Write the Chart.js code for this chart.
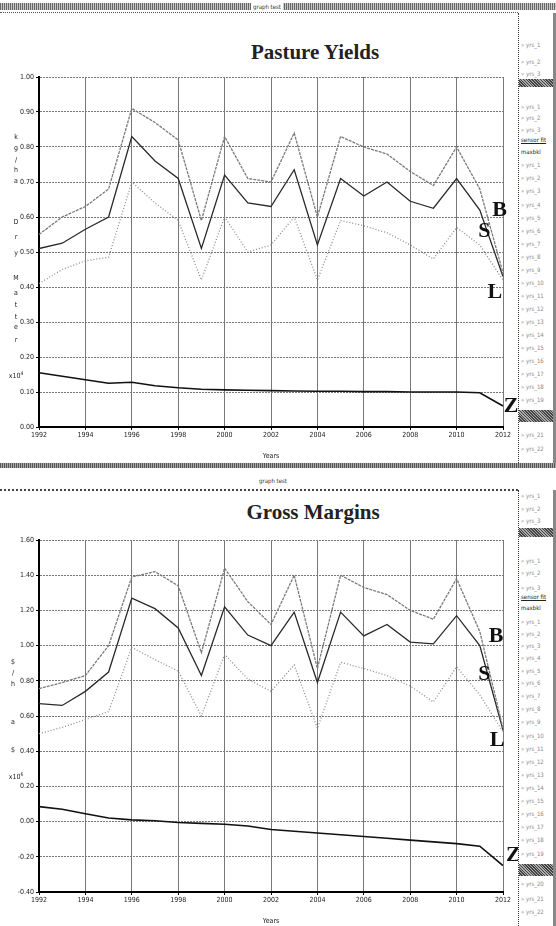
<!DOCTYPE html>
<html><head><meta charset="utf-8">
<script src="https://cdn.jsdelivr.net/npm/chart.js@4.4.0/dist/chart.umd.min.js"></script>
<style>
html,body{margin:0;padding:0;background:#fff;}
body{width:556px;height:926px;position:relative;overflow:hidden;font-family:'Liberation Serif',serif;color:#111;}
.abs{position:absolute;}
.hbar{position:absolute;left:0;width:556px;background:repeating-linear-gradient(90deg,#666 0 1px,#c8c8c8 1px 2px);}
.dline{position:absolute;left:0;width:518px;border-top:1px dotted #555;}
.gt{position:absolute;font:6px 'DejaVu Sans Condensed',sans-serif;color:#333;background:#fff;padding:0 2px;transform:translateX(-50%);}
.title{position:absolute;font:bold 21px 'Liberation Serif',serif;color:#222;transform:translateX(-50%);white-space:nowrap;}
.panel{position:absolute;left:518px;width:34px;border-left:1px dotted #333;border-right:4px solid #888;}
.item{position:absolute;left:2px;font:6px 'DejaVu Sans Condensed',sans-serif;color:#888;white-space:nowrap;}
.sel{position:absolute;left:0;width:34px;background:repeating-linear-gradient(45deg,#444 0 1px,#aaa 1px 2px);}
.vl{position:absolute;font:7px 'DejaVu Sans Condensed',sans-serif;color:#222;transform:translate(-50%,-50%);}
canvas{position:absolute;left:0;}
</style></head><body>

<div class="hbar" style="top:3px;height:7px"></div>
<div class="gt" style="left:267px;top:3px">graph test</div>
<div class="dline" style="top:12px"></div>

<div class="hbar" style="top:463px;height:5px;background:repeating-linear-gradient(90deg,#555 0 1px,#aaa 1px 2px)"></div>
<div class="gt" style="left:273px;top:477px">graph test</div>
<div class="dline" style="top:489px;border-top:2px dotted #444"></div>

<div class="panel" id="p1" style="top:13px;height:450px"></div>
<div class="panel" id="p2" style="top:490px;height:436px"></div>

<div class="title" style="left:315px;top:40px">Pasture Yields</div>
<div class="title" style="left:313px;top:500px">Gross Margins</div>

<canvas id="c1" width="518" height="398" style="top:62px"></canvas>
<canvas id="c2" width="518" height="400" style="top:525px"></canvas>

<script>
// ---- data ----
const years = [1992,1993,1994,1995,1996,1997,1998,1999,2000,2001,2002,2003,2004,2005,2006,2007,2008,2009,2010,2011,2012];
const xTicks = [1992,1994,1996,1998,2000,2002,2004,2006,2008,2010,2012];

// Pasture Yields (x10^4)
const pastureB = [0.55,0.60,0.63,0.68,0.91,0.87,0.82,0.59,0.83,0.71,0.70,0.84,0.60,0.83,0.80,0.78,0.73,0.69,0.80,0.68,0.44];
const pastureS = [0.51,0.525,0.565,0.60,0.83,0.76,0.71,0.51,0.72,0.64,0.63,0.735,0.52,0.71,0.66,0.70,0.645,0.625,0.71,0.62,0.43];
const pastureL = [0.41,0.45,0.475,0.485,0.70,0.64,0.59,0.42,0.60,0.50,0.52,0.60,0.42,0.59,0.575,0.555,0.52,0.48,0.57,0.52,0.42];
const pastureZ = [0.155,0.145,0.135,0.125,0.128,0.118,0.112,0.108,0.106,0.105,0.104,0.103,0.102,0.102,0.101,0.101,0.100,0.100,0.100,0.098,0.06];

// Gross Margins (x10^6)
const marginB = [0.755,0.79,0.83,1.00,1.39,1.42,1.34,0.96,1.44,1.25,1.12,1.40,0.87,1.40,1.33,1.29,1.20,1.15,1.38,1.08,0.53];
const marginS = [0.67,0.66,0.74,0.85,1.27,1.21,1.10,0.83,1.22,1.06,1.00,1.19,0.79,1.19,1.055,1.12,1.02,1.01,1.17,1.00,0.52];
const marginL = [0.50,0.535,0.58,0.625,0.99,0.92,0.855,0.60,0.95,0.81,0.74,0.89,0.53,0.905,0.87,0.83,0.77,0.68,0.88,0.72,0.51];
const marginZ = [0.085,0.07,0.045,0.02,0.01,0.005,-0.005,-0.01,-0.015,-0.025,-0.045,-0.055,-0.065,-0.075,-0.085,-0.095,-0.105,-0.115,-0.125,-0.14,-0.25];

// series end letters: [letter, year, value]
const pastureLetters = [['B',2011.85,0.62],['S',2011.2,0.56],['L',2011.65,0.385],['Z',2012.35,0.06]];
const marginLetters  = [['B',2011.7,1.05],['S',2011.2,0.835],['L',2011.75,0.46],['Z',2012.45,-0.19]];

const pastureTicks = {min:0, max:1.0, step:0.1};
const marginTicks  = {min:-0.4, max:1.6, step:0.2};

// ---- chrome ----
function panel(id, tops, selTops){
  const p=document.getElementById(id);
  const names=['yrs_1','yrs_2','yrs_3','','yrs_1','yrs_2','yrs_3','sensor fit','maxbkl','yrs_1','yrs_2','yrs_3','yrs_4','yrs_5','yrs_6','yrs_7','yrs_8','yrs_9','yrs_10','yrs_11','yrs_12','yrs_13','yrs_14','yrs_15','yrs_16','yrs_17','yrs_18','yrs_19','yrs_20','yrs_21','yrs_22','yrs_23'];
  tops.forEach((t,i)=>{const d=document.createElement('div');d.className='item';d.style.top=t+'px';d.textContent=(names[i]&&!names[i].startsWith('sensor')&&names[i]!=='maxbkl'?'» ':'')+(names[i]||'');if(names[i]==='sensor fit'||names[i]==='maxbkl'){d.style.color='#222';d.style.textDecoration=names[i]==='sensor fit'?'underline':'none';}p.appendChild(d);});
  selTops.forEach(s=>{const d=document.createElement('div');d.className='sel';d.style.top=s[0]+'px';d.style.height=s[1]+'px';p.appendChild(d);});
}
const t1=[28,45,57,0,78,90,101,113,123,135,148,161,174,188,201,214,227,240,253,266,279,292,305,318,331,344,357,370,383,401,418,432];
panel('p1', t1.filter((v,i)=>i!==3), [[66,8],[397,12]]);
const t2=[2,15,27,0,55,67,79,94,103,114,128,140,152,164,177,189,202,215,228,242,255,268,281,294,307,320,333,346,360,390,405,418];
panel('p2', t2.filter((v,i)=>i!==3), [[38,9],[374,12]]);

function vletters(chars, ys, x){
  chars.forEach((c,i)=>{const d=document.createElement('div');d.className='vl';d.style.left=x+'px';d.style.top=ys[i]+'px';d.textContent=c;document.body.appendChild(d);});
}
vletters(['k','g','/','h','a','D','r','y','M','a','t','t','e','r'],[137,148,160,170,181,222,237,253,278,293,305,317,327,340],16);
vletters(['$','/','h','a','$'],[662,673,684,722,750],13);
function unit(txt, exp, x, y){const d=document.createElement('div');d.className='vl';d.style.left=x+'px';d.style.top=y+'px';d.innerHTML=txt+'<sup style="font-size:5px">'+exp+'</sup>';document.body.appendChild(d);}
unit('x10','4',16,375);
unit('x10','6',16,776);

// ---- charts ----
const letterPlugin = {
  id:'endLetters',
  afterDatasetsDraw(chart, args, opts){
    const ctx=chart.ctx, xs=chart.scales.x, ys=chart.scales.y;
    ctx.save();
    ctx.font='bold 22px "Liberation Serif", serif';
    ctx.fillStyle='#111'; ctx.textAlign='center'; ctx.textBaseline='middle';
    opts.items.forEach(it=>ctx.fillText(it[0], xs.getPixelForValue(it[1]), ys.getPixelForValue(it[2])));
    ctx.restore();
  }
};

function pts(arr){ return years.map((y,i)=>({x:y,y:arr[i]})); }

function makeChart(id, B, S, L, Z, letters, rng){
  const tickFont={family:"'Liberation Sans Narrow','DejaVu Sans Condensed',sans-serif", size:7};
  new Chart(document.getElementById(id), {
    type:'line',
    data:{datasets:[
      {label:'B', data:pts(B), borderColor:'#7a7a7a', borderWidth:1.3, borderDash:[3,1]},
      {label:'S', data:pts(S), borderColor:'#2a2a2a', borderWidth:1.3},
      {label:'L', data:pts(L), borderColor:'#8c8c8c', borderWidth:1.3, borderDash:[1,2]},
      {label:'Z', data:pts(Z), borderColor:'#111', borderWidth:1.6}
    ]},
    options:{
      responsive:false, animation:false, devicePixelRatio:1,
      elements:{point:{radius:0}, line:{tension:0}},
      layout:{padding:{top:15,right:15,left:0,bottom:0}},
      plugins:{legend:{display:false}, title:{display:false}, tooltip:{enabled:false}, endLetters:{items:letters}},
      scales:{
        x:{type:'linear', min:1992, max:2012,
           afterBuildTicks:(s)=>{s.ticks=xTicks.map(v=>({value:v}));},
           afterFit:(s)=>{s.height=33;},
           ticks:{font:tickFont, color:'#222', padding:1, maxRotation:0, callback:v=>String(v)},
           grid:{color:'#777', lineWidth:1, borderDash:[1,3], tickLength:3, tickColor:'#000'},
           border:{display:true, color:'#000', width:2},
           title:{display:true, text:'Years', font:tickFont, color:'#222', padding:{top:2,bottom:0}}},
        y:{min:rng.min, max:rng.max,
           afterBuildTicks:(s)=>{const t=[];for(let v=rng.min;v<=rng.max+1e-9;v+=rng.step)t.push({value:Math.round(v*100)/100});s.ticks=t;},
           afterFit:(s)=>{s.width=39;},
           ticks:{font:tickFont, color:'#222', padding:2, callback:v=>v.toFixed(2)},
           grid:{color:'#777', lineWidth:1, borderDash:[2,3], tickLength:3, tickColor:'#000'},
           border:{display:true, color:'#000', width:2, dash:[2,1]}}
      }
    },
    plugins:[letterPlugin]
  });
}
makeChart('c1', pastureB, pastureS, pastureL, pastureZ, pastureLetters, pastureTicks);
makeChart('c2', marginB, marginS, marginL, marginZ, marginLetters, marginTicks);
</script>
</body></html>
